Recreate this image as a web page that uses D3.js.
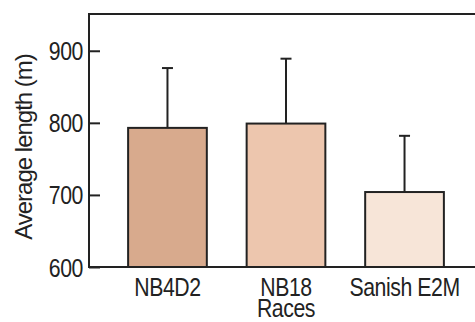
<!DOCTYPE html>
<html>
<head>
<meta charset="utf-8">
<script src="https://cdn.jsdelivr.net/npm/d3@7"></script>
<style>
  html, body { margin: 0; padding: 0; background: #fff; }
  svg { display: block; }
  text { font-family: "Liberation Sans", Arial, sans-serif; fill: #222; }
</style>
</head>
<body>
<svg id="chart" width="475" height="322"></svg>
<script>
// Average length per group, with the upper end of each error bar
const categories = [["NB4D2"], ["NB18", "Races"], ["Sanish E2M"]];
const means = [793, 799, 704];
const errorTops = [876, 889, 782];
const barColors = ["#d8aa8d", "#edc6ae", "#f7e5d8"];
const yTicks = [600, 700, 800, 900];

// Condensed lettering: regular face squeezed horizontally
const squeeze = 0.85;

const svg = d3.select("#chart");
const plotLeft = 89, plotTop = 14, plotBottom = 267, plotRight = 475;

const x = d3.scaleBand()
  .domain(d3.range(categories.length))
  .range([plotLeft, 483])
  .paddingInner(0.336)
  .paddingOuter(0.33);

const y = d3.scaleLinear().domain([600, 951]).range([plotBottom, plotTop]);

// Bars
svg.append("g").selectAll("rect")
  .data(means)
  .join("rect")
  .attr("x", (d, i) => x(i))
  .attr("width", x.bandwidth())
  .attr("y", d => y(d))
  .attr("height", d => y(600) - y(d))
  .attr("fill", (d, i) => barColors[i])
  .attr("stroke", "#222")
  .attr("stroke-width", 2);

// Error bars (upper whisker only)
const eb = svg.append("g").attr("stroke", "#222").attr("stroke-width", 2);
errorTops.forEach((t, i) => {
  const cx = x(i) + x.bandwidth() / 2;
  eb.append("line").attr("x1", cx).attr("x2", cx).attr("y1", y(means[i])).attr("y2", y(t));
  eb.append("line").attr("x1", cx - 5.5).attr("x2", cx + 5.5).attr("y1", y(t)).attr("y2", y(t));
});

// Frame: top line, left axis, baseline
svg.append("path")
  .attr("d", `M${plotRight},${plotTop}H${plotLeft}V${plotBottom}H${plotRight}`)
  .attr("fill", "none")
  .attr("stroke", "#222")
  .attr("stroke-width", 2);

// Y axis with inward ticks
const yAxis = svg.append("g")
  .attr("transform", `translate(${plotLeft},0)`)
  .call(d3.axisLeft(y).tickValues(yTicks).tickSize(-11).tickPadding(6).tickFormat(d3.format("d")));
yAxis.select(".domain").remove();
yAxis.selectAll(".tick line").attr("stroke", "#222").attr("stroke-width", 2);
yAxis.selectAll(".tick text")
  .attr("x", 0)
  .attr("dy", "0.36em")
  .attr("transform", `translate(-6,0) scale(${squeeze},1)`)
  .style("font-size", "25px")
  .style("letter-spacing", "-0.5px")
  .attr("fill", "#222");

// Category labels
const lab = svg.append("g");
categories.forEach((lines, i) => {
  const t = lab.append("text")
    .attr("transform", `translate(${x(i) + x.bandwidth() / 2},296) scale(${squeeze},1)`)
    .attr("text-anchor", "middle")
    .style("font-size", "25px")
    .style("letter-spacing", "-0.5px");
  lines.forEach((s, k) => {
    t.append("tspan").attr("x", 0).attr("dy", k === 0 ? 0 : 20.5).text(s);
  });
});

// Y axis title
svg.append("text")
  .attr("transform", "translate(32,147) rotate(-90)")
  .attr("text-anchor", "middle")
  .style("font-size", "24px")
  .style("letter-spacing", "-1px")
  .text("Average length (m)");
</script>
</body>
</html>
